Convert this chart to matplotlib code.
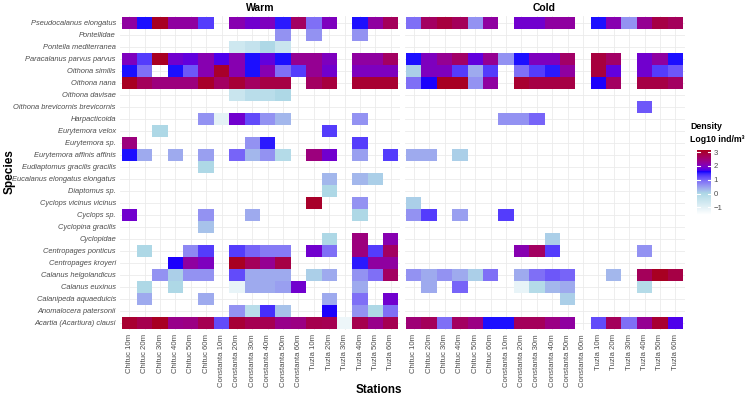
import numpy as np
import matplotlib
matplotlib.use('Agg')
import matplotlib.pyplot as plt
from matplotlib.colors import ListedColormap, to_rgb

plt.rcParams['font.family'] = ['Liberation Sans', 'DejaVu Sans']

N = np.nan

species = ['Pseudocalanus elongatus', 'Pontellidae', 'Pontella mediterranea',
           'Paracalanus parvus parvus', 'Oithona similis', 'Oithona nana',
           'Oithona davisae', 'Oithona brevicornis brevicornis', 'Harpacticoida',
           'Eurytemora velox', 'Eurytemora sp.', 'Eurytemora affinis affinis',
           'Eudiaptomus gracilis gracilis', 'Eucalanus elongatus elongatus',
           'Diaptomus sp.', 'Cyclops vicinus vicinus', 'Cyclops sp.',
           'Cyclopina gracilis', 'Cyclopidae', 'Centropages ponticus',
           'Centropages kroyeri', 'Calanus helgolandicus', 'Calanus euxinus',
           'Calanipeda aquaeduicis', 'Anomalocera patersonii',
           'Acartia (Acartiura) clausi']

stations = ['Chituc 10m', 'Chituc 20m', 'Chituc 30m', 'Chituc 40m', 'Chituc 50m', 'Chituc 60m',
            'Constanta 10m', 'Constanta 20m', 'Constanta 30m', 'Constanta 40m', 'Constanta 50m', 'Constanta 60m',
            'Tuzla 10m', 'Tuzla 20m', 'Tuzla 30m', 'Tuzla 40m', 'Tuzla 50m', 'Tuzla 60m']

seasons = ['Warm', 'Cold']

# log10 density, rows = species (top to bottom), cols = stations
warm = [
    [2.2, 1.55, 3.1, 2.2, 2.2, 1.3, N, 2.1, 1.9, 2.0, 1.5, 2.65, 0.9, 2.0, N, 1.55, 2.2, 2.7],
    [N, N, N, N, N, N, N, N, N, N, 0.6, N, 0.6, N, N, 0.6, N, N],
    [N, N, N, N, N, N, N, -0.6, -0.4, 0.0, -0.5, N, N, N, N, N, N, N],
    [2.0, 1.3, 3.1, 1.9, 1.8, 2.1, 1.7, 2.1, 1.55, 1.8, 1.55, 2.3, 2.3, 2.0, N, 2.2, 2.2, 2.65],
    [1.55, 0.9, N, 1.55, 1.1, 2.1, 3.05, 2.1, 1.55, 2.1, 0.9, 1.3, 2.3, 1.9, N, 2.0, 2.0, 2.0],
    [3.1, 2.7, 2.45, 2.45, 2.45, 3.05, 2.65, 2.95, 2.65, 2.85, 2.85, N, 2.65, 2.9, N, 3.0, 3.0, 3.0],
    [N, N, N, N, N, N, N, -0.5, -0.2, -0.2, 0.0, N, N, N, N, N, N, N],
    [N, N, N, N, N, N, N, N, N, N, N, N, N, N, N, N, N, N],
    [N, N, N, N, N, 0.6, -1.0, 1.9, 1.2, 0.6, 0.3, N, N, N, N, 0.6, N, N],
    [N, N, 0.0, N, N, N, N, N, N, N, N, N, N, 1.3, N, N, N, N],
    [2.45, N, N, N, N, N, N, N, 0.6, 1.5, N, N, N, N, N, 1.3, N, N],
    [1.55, 0.4, N, 0.4, N, 0.5, N, 1.0, 0.3, 0.6, -0.1, N, 2.45, 1.9, N, 0.5, N, 1.3],
    [N, N, N, N, N, 0.0, N, N, N, N, N, N, N, N, N, N, N, N],
    [N, N, N, N, N, N, N, N, N, N, N, N, N, 0.3, N, 0.3, 0.1, N],
    [N, N, N, N, N, N, N, N, N, N, N, N, N, 0.0, N, N, N, N],
    [N, N, N, N, N, N, N, N, N, N, N, N, 3.05, N, N, 0.6, N, N],
    [1.9, N, N, N, N, 0.6, N, N, 0.4, N, N, N, N, N, N, 0.0, N, N],
    [N, N, N, N, N, 0.2, N, N, N, N, N, N, N, N, N, N, N, N],
    [N, N, N, N, N, N, N, N, N, N, N, N, N, 0.0, N, 2.45, N, 2.1],
    [N, 0.0, N, N, 0.7, 1.3, N, 1.3, 1.0, 0.8, 0.8, N, 1.9, 0.9, N, 2.45, 1.3, 2.65],
    [N, N, N, 1.6, 2.2, 2.0, N, 3.1, 2.7, 2.3, 2.85, N, N, N, N, 1.5, 2.2, 2.2],
    [N, N, 0.6, 0.1, 0.6, 0.6, N, 1.2, 0.4, 0.4, 0.4, N, 0.1, 0.4, N, 0.6, 0.9, 2.65],
    [N, 0.0, N, 0.0, N, N, N, -1.1, 0.4, 0.4, 0.5, 1.9, N, N, N, 0.4, N, N],
    [N, 0.4, N, N, N, 0.4, N, N, N, N, N, N, N, 0.4, N, 0.9, N, 1.9],
    [N, N, N, N, N, N, N, 0.6, -0.2, 1.4, 0.2, N, N, 1.6, N, 0.6, 0.0, 0.9],
    [3.0, 2.8, 3.1, 2.35, 2.4, 2.75, 1.2, 2.95, 2.75, 2.75, 2.35, 2.4, 2.8, 2.75, -1.2, 2.8, 2.35, 2.75],
]

cold = [
    [0.9, 2.65, 2.9, 2.7, 0.6, 2.2, N, 1.9, 1.9, 2.2, 2.2, N, 1.55, 2.1, 0.6, 2.3, 2.85, 2.7],
    [N, N, N, N, N, N, N, N, N, N, N, N, N, N, N, N, N, N],
    [N, N, N, N, N, N, N, N, N, N, N, N, N, N, N, N, N, N],
    [1.55, 2.0, 2.3, 2.6, 1.8, 2.3, 0.6, 1.55, 2.0, 2.0, 2.6, N, 2.9, 2.6, N, 1.9, 2.2, 1.55],
    [0.1, 2.0, 2.0, 1.3, 0.4, 1.3, N, 0.9, 1.3, 1.5, 2.2, N, 2.9, 1.8, N, 1.9, 1.3, 1.1],
    [0.9, 1.6, 3.1, 3.1, 0.6, 2.2, N, 3.0, 2.85, 2.85, 2.85, N, 1.6, 2.65, N, 2.85, 2.85, 2.65],
    [N, N, N, N, N, N, N, N, N, N, N, N, N, N, N, N, N, N],
    [N, N, N, N, N, N, N, N, N, N, N, N, N, N, N, 1.1, N, N],
    [N, N, N, N, N, N, 0.6, 0.6, 1.0, N, N, N, N, N, N, N, N, N],
    [N, N, N, N, N, N, N, N, N, N, N, N, N, N, N, N, N, N],
    [N, N, N, N, N, N, N, N, N, N, N, N, N, N, N, N, N, N],
    [0.4, 0.4, N, 0.1, N, N, N, N, N, N, N, N, N, N, N, N, N, N],
    [N, N, N, N, N, N, N, N, N, N, N, N, N, N, N, N, N, N],
    [N, N, N, N, N, N, N, N, N, N, N, N, N, N, N, N, N, N],
    [N, N, N, N, N, N, N, N, N, N, N, N, N, N, N, N, N, N],
    [0.1, N, N, N, N, N, N, N, N, N, N, N, N, N, N, N, N, N],
    [0.6, 1.3, N, 0.5, N, N, 1.3, N, N, N, N, N, N, N, N, N, N, N],
    [N, N, N, N, N, N, N, N, N, N, N, N, N, N, N, N, N, N],
    [N, N, N, N, N, N, N, N, N, 0.1, N, N, N, N, N, N, N, N],
    [N, N, N, N, N, N, N, 2.1, 2.65, 1.3, N, N, N, N, N, 0.6, N, N],
    [N, N, N, N, N, N, N, N, N, N, N, N, N, N, N, N, N, N],
    [0.6, 0.4, 0.6, 0.4, 0.1, 0.9, N, 0.4, 0.9, 1.1, 1.0, N, N, 0.3, N, 2.7, 3.1, 2.85],
    [N, 0.4, N, 1.0, N, N, N, -1.1, -0.1, 0.3, 0.4, N, N, N, N, -0.1, N, N],
    [N, N, N, N, N, N, N, N, N, N, 0.1, N, N, N, N, N, N, N],
    [N, N, N, N, N, N, N, N, N, N, N, N, N, N, N, N, N, N],
    [2.5, 2.7, 0.9, 2.65, 2.4, 1.55, 1.55, 2.7, 2.7, 2.4, 2.2, N, 1.2, 2.7, 0.9, 2.3, 3.0, 1.7],
]

# gradient white -> lightblue -> blue -> dark red, interpolated in Lab like ggplot
M = np.array([[0.4124, 0.3576, 0.1805], [0.2126, 0.7152, 0.0722], [0.0193, 0.1192, 0.9505]])
WP = np.array([0.95047, 1.0, 1.08883])

def to_lab(rgb):
    c = np.where(rgb <= 0.04045, rgb / 12.92, ((rgb + 0.055) / 1.055) ** 2.4)
    xyz = c @ M.T / WP
    f = np.where(xyz > 0.008856, np.cbrt(xyz), 7.787 * xyz + 16 / 116)
    return np.stack([116 * f[..., 1] - 16, 500 * (f[..., 0] - f[..., 1]), 200 * (f[..., 1] - f[..., 2])], -1)

def from_lab(lab):
    fy = (lab[..., 0] + 16) / 116
    f = np.stack([fy + lab[..., 1] / 500, fy, fy - lab[..., 2] / 200], -1)
    xyz = np.where(f > 0.206893, f ** 3, (f - 16 / 116) / 7.787) * WP
    c = np.clip(xyz @ np.linalg.inv(M).T, 0, 1)
    return np.clip(np.where(c <= 0.0031308, 12.92 * c, 1.055 * c ** (1 / 2.4) - 0.055), 0, 1)

anchors = to_lab(np.array([to_rgb(c) for c in ['white', 'lightblue', 'blue', '#a8001c']]))
t = np.linspace(0, 3, 256)
i = np.minimum(t.astype(int), 2)
lab = anchors[i] + (t - i)[:, None] * (anchors[i + 1] - anchors[i])
cmap = ListedColormap(from_lab(lab))
vmin, vmax = -1.55, 3.15

W, H = 753, 401
fig = plt.figure(figsize=(W / 100, H / 100), dpi=100)

lefts = [120, 404.5]
for k, (name, data) in enumerate(zip(seasons, [warm, cold])):
    ax = fig.add_axes([lefts[k] / W, 1 - 330 / H, 280 / W, 314.5 / H])
    z = np.ma.masked_invalid(np.array(data, dtype=float))
    mesh = ax.pcolormesh(np.arange(len(stations) + 1) - 0.5, np.arange(len(species) + 1) - 0.5, z,
                         cmap=cmap, vmin=vmin, vmax=vmax, edgecolors='none', zorder=2)
    ax.set_xlim(-0.6, len(stations) - 0.4)
    ax.set_ylim(len(species) - 0.4, -0.6)
    ax.set_xticks(range(len(stations)))
    ax.set_xticklabels(stations, rotation=90, fontsize=5.6, color='#4d4d4d')
    ax.set_yticks(range(len(species)))
    if k == 0:
        ax.set_yticklabels(species, fontsize=5.4, style='italic', color='#4d4d4d')
    else:
        ax.set_yticklabels([])
    ax.tick_params(length=0, pad=3)
    ax.grid(True, color='#ebebeb', lw=0.6, zorder=0)
    ax.set_axisbelow(True)
    for s in ax.spines.values():
        s.set_visible(False)
    ax.set_title(name, fontsize=7.5, fontweight='bold', pad=3)

fig.text(10 / W, 1 - 172 / H, 'Species', rotation=90, fontsize=8.5, fontweight='bold', ha='center', va='center')
fig.text(379 / W, 1 - 390 / H, 'Stations', fontsize=8.5, fontweight='bold', ha='center', va='center')

# legend
fig.text(690 / W, 1 - 127 / H, 'Density', fontsize=6.3, fontweight='bold', va='center')
fig.text(690 / W, 1 - 140 / H, 'Log10 ind/m³', fontsize=6.3, fontweight='bold', va='center')
cax = fig.add_axes([697 / W, 1 - 215 / H, 14 / W, 65 / H])
cb = fig.colorbar(mesh, cax=cax)
cb.outline.set_visible(False)
ticks = [-1, 0, 1, 2, 3]
cb.set_ticks(ticks)
cax.tick_params(length=0, labelsize=5.6, labelcolor='#4d4d4d', pad=2)
for v in ticks:
    cax.axhline(v, 0, 0.2, color='white', lw=0.8)
    cax.axhline(v, 0.8, 1, color='white', lw=0.8)

plt.savefig('out.png', dpi=100)
